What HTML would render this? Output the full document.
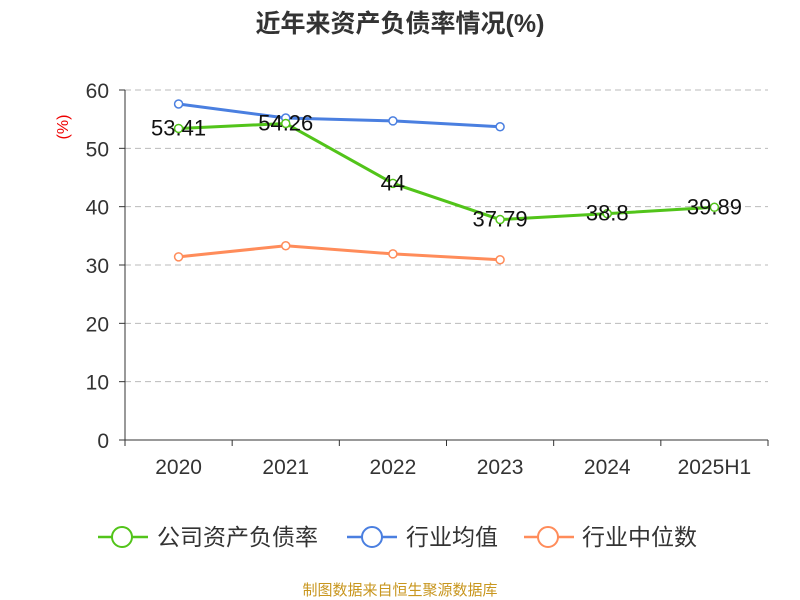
<!DOCTYPE html>
<html><head><meta charset="utf-8"><style>
body{margin:0;background:#fff;}
svg{display:block;font-family:"Liberation Sans","Noto Sans CJK SC",sans-serif;}
</style></head><body>
<svg width="800" height="600">
<text x="400" y="32" text-anchor="middle" font-size="25" font-weight="bold" fill="#333">近年来资产负债率情况(%)</text>
<text x="68" y="127" font-size="16" fill="#e00" transform="rotate(-90 68 127)" text-anchor="middle">(%)</text>
<g id="grid"></g><g id="axes"></g><g id="series"></g>
<g>
<g><line x1="98" y1="537" x2="148" y2="537" stroke="#52c41a" stroke-width="2.5"/><circle cx="122" cy="537" r="10" fill="#fff" stroke="#52c41a" stroke-width="2"/><text x="157" y="545" font-size="23" fill="#333">公司资产负债率</text></g>
<g><line x1="347" y1="537" x2="397" y2="537" stroke="#4a7fe0" stroke-width="2.5"/><circle cx="372" cy="537" r="10" fill="#fff" stroke="#4a7fe0" stroke-width="2"/><text x="406" y="545" font-size="23" fill="#333">行业均值</text></g>
<g><line x1="524" y1="537" x2="574" y2="537" stroke="#ff8c5a" stroke-width="2.5"/><circle cx="548" cy="537" r="10" fill="#fff" stroke="#ff8c5a" stroke-width="2"/><text x="582" y="545" font-size="23" fill="#333">行业中位数</text></g>
</g>
<text x="400" y="595" text-anchor="middle" font-size="15" fill="#c8961e">制图数据来自恒生聚源数据库</text>
</svg>
<script>
const categories=["2020","2021","2022","2023","2024","2025H1"];
const companyValues=[53.41,54.26,44,37.79,38.8,39.89];
const companyLabels=["53.41","54.26","44","37.79","38.8","39.89"];
const avgValues=[57.6,55.2,54.7,53.7];
const medianValues=[31.4,33.3,31.9,30.9];
const yTicks=[0,10,20,30,40,50,60];
const NS="http://www.w3.org/2000/svg";
const x0=125,x1=768,yTop=90,yBot=440,yMax=60;
const bw=(x1-x0)/categories.length;
const xs=i=>x0+bw*(i+0.5);
const ys=v=>yBot-(v/yMax)*(yBot-yTop);
function mk(tag,attrs,parent){const e=document.createElementNS(NS,tag);for(const k in attrs)e.setAttribute(k,attrs[k]);document.getElementById(parent).appendChild(e);return e;}
yTicks.forEach(t=>{
 if(t>0){const g=mk('line',{x1:x0,x2:x1,y1:ys(t),y2:ys(t),stroke:'#bbb','stroke-dasharray':'6,4'},'grid');
 
 }
 const tk=mk('line',{x1:x0-6,x2:x0,y1:ys(t),y2:ys(t),stroke:'#333'},'axes');
 
 
 const l=mk('text',{x:x0-16,y:ys(t)+8,'text-anchor':'end','font-size':21,fill:'#333'},'axes');l.textContent=t;
 
 
});
const ya=mk('line',{x1:x0,x2:x0,y1:yTop,y2:yBot,stroke:'#333'},'axes');


const xa=mk('line',{x1:x0,x2:x1,y1:yBot,y2:yBot,stroke:'#333'},'axes');


for(let i=0;i<=categories.length;i++){const t=mk('line',{x1:x0+bw*i,x2:x0+bw*i,y1:yBot,y2:yBot+6,stroke:'#333'},'axes');
 
 }
categories.forEach((c,i)=>{const l=mk('text',{x:xs(i),y:474,'text-anchor':'middle','font-size':21,fill:'#333'},'axes');l.textContent=c;
 
 });
function series(vals,color,name){
 const p=mk('polyline',{points:vals.map((v,i)=>xs(i)+','+ys(v)).join(' '),fill:'none',stroke:color,'stroke-width':3},'series');
 
 
 vals.forEach((v,i)=>{const c=mk('circle',{cx:xs(i),cy:ys(v),r:4,fill:'#fff',stroke:color,'stroke-width':1.5},'series');
 
 });
}
series(avgValues,'#4a7fe0','industry-average');
series(medianValues,'#ff8c5a','industry-median');
series(companyValues,'#52c41a','company');
companyValues.forEach((v,i)=>{const l=mk('text',{x:xs(i),y:ys(v)+7,'text-anchor':'middle','font-size':22,fill:'#111'},'series');l.textContent=companyLabels[i];
 
 });
</script>
</body></html>
